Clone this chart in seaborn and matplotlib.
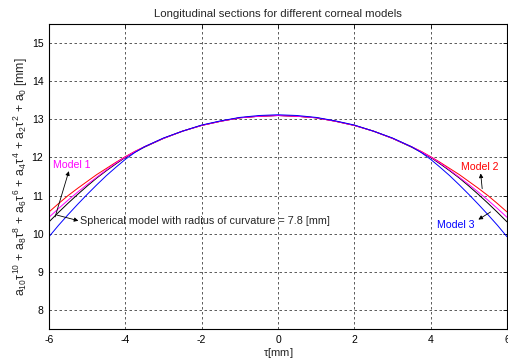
import numpy as np
import pandas as pd
import matplotlib
matplotlib.use("Agg")
import matplotlib.pyplot as plt
import seaborn as sns

# sample positions along the section [mm]
tau = [-6.0, -5.75, -5.5, -5.25, -5.0, -4.75, -4.5, -4.25, -4.0, -3.75, -3.5,
       -3.0, -2.5, -2.0, -1.5, -1.0, -0.5, 0.0, 0.5, 1.0, 1.5, 2.0, 2.5, 3.0,
       3.5, 3.75, 4.0, 4.25, 4.5, 4.75, 5.0, 5.25, 5.5, 5.75, 6.0]

# heights [mm]
sphere = [10.31, 10.56, 10.80, 11.03, 11.25, 11.46, 11.65, 11.83, 12.00, 12.14, 12.27,
          12.50, 12.69, 12.84, 12.95, 13.04, 13.08, 13.10, 13.08, 13.04, 12.95, 12.84, 12.69, 12.50,
          12.27, 12.14, 12.00, 11.83, 11.65, 11.46, 11.25, 11.03, 10.80, 10.56, 10.31]
model1 = [10.43, 10.66, 10.88, 11.09, 11.29, 11.48, 11.67, 11.85, 12.01, 12.15, 12.28,
          12.50, 12.69, 12.84, 12.95, 13.04, 13.08, 13.10, 13.08, 13.04, 12.95, 12.84, 12.69, 12.50,
          12.28, 12.15, 12.01, 11.85, 11.67, 11.48, 11.29, 11.09, 10.88, 10.66, 10.43]
model2 = [10.57, 10.79, 11.00, 11.19, 11.37, 11.55, 11.71, 11.87, 12.02, 12.16, 12.28,
          12.50, 12.69, 12.84, 12.95, 13.04, 13.08, 13.10, 13.08, 13.04, 12.95, 12.84, 12.69, 12.50,
          12.28, 12.16, 12.02, 11.87, 11.71, 11.55, 11.37, 11.19, 11.00, 10.79, 10.57]
model3 = [9.92, 10.22, 10.50, 10.77, 11.03, 11.28, 11.52, 11.74, 11.95, 12.13, 12.28,
          12.51, 12.69, 12.85, 12.96, 13.05, 13.10, 13.12, 13.10, 13.05, 12.96, 12.85, 12.69, 12.51,
          12.28, 12.13, 11.95, 11.74, 11.52, 11.28, 11.03, 10.77, 10.50, 10.22, 9.92]

sns.set_style("white")
plt.rcParams['font.family'] = ['Liberation Sans', 'DejaVu Sans']
plt.rcParams['axes.unicode_minus'] = False
plt.rcParams['mathtext.fontset'] = 'custom'
plt.rcParams['mathtext.rm'] = 'Liberation Sans'
plt.rcParams['mathtext.it'] = 'Liberation Sans'
plt.rcParams['mathtext.bf'] = 'Liberation Sans'

fig = plt.figure(figsize=(5.08, 3.6), dpi=100)
ax = fig.add_axes([49 / 508, 1 - 329 / 360, 458 / 508, 305 / 360])

series = [("sphere", sphere, "black"), ("model2", model2, "red"),
          ("model1", model1, "magenta"), ("model3", model3, "blue")]
for name, vals, col in series:
    d = pd.DataFrame({"tau": tau, "z": vals})
    sns.lineplot(data=d, x="tau", y="z", color=col, lw=0.7, ax=ax, sort=False)

ax.set_xlim(-6, 6)
ax.set_ylim(7.5, 15.5)
ax.set_xticks([-6, -4, -2, 0, 2, 4, 6])
ax.set_yticks([8, 9, 10, 11, 12, 13, 14, 15])
ax.grid(True, color="black", linestyle=(0, (3, 3)), lw=0.6, alpha=0.75)
ax.tick_params(direction="in", length=3, width=0.6, labelsize=7.5, pad=4,
               top=True, right=True, colors="black")
for s in ax.spines.values():
    s.set_color("black")
    s.set_linewidth(0.8)

ax.set_title("Longitudinal sections for different corneal models", fontsize=8.2, pad=5)
ax.set_xlabel(r"$\tau$[mm]", fontsize=8, labelpad=1)
ax.set_ylabel(r"$a_{10}\tau^{10}\,+\,a_8\tau^8\,+\,a_6\tau^6\,+\,a_4\tau^4\,+\,a_2\tau^2\,+\,a_0$ [mm]",
              fontsize=8.8, labelpad=1)

arr = dict(arrowstyle="-|>", color="black", lw=0.6, mutation_scale=6, shrinkA=0, shrinkB=0)
ax.text(-5.9, 11.81, "Model 1", color="magenta", fontsize=7.6, va="center")
ax.annotate("", xy=(-5.48, 11.64), xytext=(-5.84, 10.44), arrowprops=arr)
ax.annotate("", xy=(-5.23, 10.34), xytext=(-5.80, 10.49), arrowprops=arr)
ax.text(-5.19, 10.34, "Spherical model with radius of curvature = 7.8 [mm]",
        fontsize=7.8, va="center")
ax.text(4.80, 11.76, "Model 2", color="red", fontsize=7.6, va="center")
ax.annotate("", xy=(5.31, 11.58), xytext=(5.35, 11.18), arrowprops=arr)
ax.text(4.17, 10.23, "Model 3", color="blue", fontsize=7.6, va="center")
ax.annotate("", xy=(5.25, 10.37), xytext=(5.57, 10.57), arrowprops=arr)

fig.savefig("out.png", dpi=100)
